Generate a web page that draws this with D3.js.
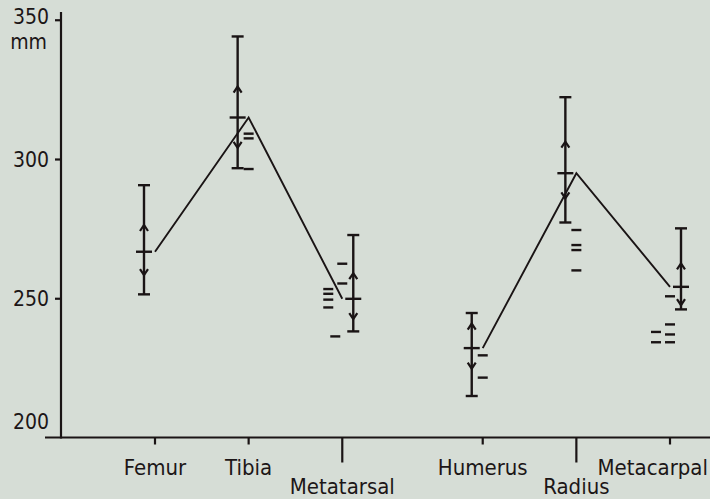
<!DOCTYPE html>
<html>
<head>
<meta charset="utf-8">
<script src="https://cdn.jsdelivr.net/npm/d3@7"></script>
<style>
  body { margin: 0; background: #d6ddd6; }
  svg { display: block; }
  text { font-family: 'DejaVu Sans Condensed', 'DejaVu Sans', sans-serif; fill: #1c1617; }
</style>
</head>
<body>
<svg id="chart" width="710" height="499"></svg>
<script>
// bone lengths in mm
var bones   = ['Femur', 'Tibia', 'Metatarsal', 'Humerus', 'Radius', 'Metacarpal'];
var limb    = ['hind', 'hind', 'hind', 'fore', 'fore', 'fore'];
var maxVal  = [290.6, 344.0, 272.7, 244.7, 322.2, 275.1];
var sdUp    = [276.3, 326.0, 259.0, 240.9, 306.2, 262.5];
var meanVal = [266.7, 314.9, 249.8, 232.1, 294.9, 254.1];
var sdDown  = [258.3, 304.0, 242.5, 224.7, 285.9, 247.5];
var minVal  = [251.4, 296.7, 238.1, 214.9, 277.2, 246.0];

// single specimens (short dashes): which bone, value, lane beside the bar
var extraBone = [1, 1, 1, 2, 2, 2, 2, 2, 2, 2, 3, 3, 4, 4, 4, 4, 5, 5, 5, 5, 5, 5];
var extraVal  = [309.1, 307.4, 296.4, 262.4, 255.3, 253.3, 251.6, 249.5, 246.7, 236.3,
                 229.5, 221.5, 274.5, 269.1, 267.3, 260.0, 250.7, 240.6, 237.9, 237.0, 234.2, 234.2];
var extraLane = [0, 0, 0, 0, 0, 1, 1, 1, 1, 0.5, 0, 0, 0, 0, 0, 0, 0, 0, 1, 0, 1, 0];

var yTicks = [200, 250, 300, 350];
var unit   = 'mm';

// layout
var ink      = '#1a1415';
var barSide  = [-1, -1, 1, -1, -1, 1];   // bar drawn left or right of the bone position
var longTick = [false, false, true, false, true, false];

var svg = d3.select('#chart');

// hind limb bones 0..2, gap, fore limb bones
var slot = bones.map(function(d, i) { return i + (limb[i] == 'fore' ? 0.5 : 0); });

var x = d3.scaleLinear().domain([0, 5.5]).range([155, 670]);
var y = d3.scaleLinear().domain([200, 300]).range([437.5, 159]);

function cx(i) { return x(slot[i]); }
function bx(i) { return cx(i) + barSide[i] * 11; }

// y axis
svg.append('line')
   .attr('x1', 61).attr('x2', 61)
   .attr('y1', 12).attr('y2', y(200) + 1)
   .attr('stroke', ink).attr('stroke-width', 2.2);

var yAxis = svg.append('g')
               .attr('transform', 'translate(61,0)')
               .call(d3.axisLeft(y).tickValues(yTicks).tickSize(6).tickPadding(6).tickFormat(d3.format('d')));
yAxis.select('.domain').remove();
yAxis.selectAll('.tick line').attr('stroke', ink).attr('stroke-width', 2.2)
     .style('display', function(d) { return d == 200 ? 'none' : null; });
yAxis.selectAll('.tick text')
     .style('font-size', '21px')
     .attr('fill', ink)
     .attr('dy', function(d) { return d == 200 ? '-0.45em' : (d == 350 ? '0.2em' : '0.36em'); });

svg.append('text')
   .attr('x', 47).attr('y', 49)
   .attr('text-anchor', 'end')
   .style('font-size', '21px')
   .text(unit);

// x axis
svg.append('line')
   .attr('x1', 45).attr('x2', 710)
   .attr('y1', y(200)).attr('y2', y(200))
   .attr('stroke', ink).attr('stroke-width', 2.2);

var xTicks = svg.append('g').selectAll('g')
                .data(bones)
                .enter()
                .append('g')
                .attr('transform', function(d, i) { return 'translate(' + cx(i) + ',' + y(200) + ')'; });

xTicks.append('line')
      .attr('y1', 0)
      .attr('y2', function(d, i) { return longTick[i] ? 25 : 7; })
      .attr('stroke', ink).attr('stroke-width', 2.2);

xTicks.append('text')
      .attr('y', function(d, i) { return longTick[i] ? 56 : 37; })
      .attr('text-anchor', 'middle')
      .style('font-size', '22px')
      .text(function(d) { return d; })
      .each(function() {
        // keep labels inside the picture
        var box = this.getBBox();
        var parentX = this.parentNode.transform.baseVal[0].matrix.e;
        var over = parentX + box.x + box.width - 708;
        if (over > 0) d3.select(this).attr('x', -over);
      });

// lines through the means, one per limb
var line = d3.line()
             .x(function(i) { return cx(i); })
             .y(function(i) { return y(meanVal[i]); });

['hind', 'fore'].forEach(function(l) {
  var idx = d3.range(bones.length).filter(function(i) { return limb[i] == l; });
  svg.append('path')
     .attr('d', line(idx))
     .attr('fill', 'none')
     .attr('stroke', ink)
     .attr('stroke-width', 1.9);
});

// range bars
var bars = svg.append('g').selectAll('g')
              .data(bones)
              .enter()
              .append('g')
              .attr('stroke', ink)
              .attr('fill', 'none');

bars.append('line')
    .attr('x1', function(d, i) { return bx(i); })
    .attr('x2', function(d, i) { return bx(i); })
    .attr('y1', function(d, i) { return y(maxVal[i]); })
    .attr('y2', function(d, i) { return y(minVal[i]); })
    .attr('stroke-width', 2.4);

[maxVal, minVal].forEach(function(arr) {
  bars.append('line')
      .attr('x1', function(d, i) { return bx(i) - 6; })
      .attr('x2', function(d, i) { return bx(i) + 6; })
      .attr('y1', function(d, i) { return y(arr[i]); })
      .attr('y2', function(d, i) { return y(arr[i]); })
      .attr('stroke-width', 2.4);
});

bars.append('line')
    .attr('x1', function(d, i) { return bx(i) - 8; })
    .attr('x2', function(d, i) { return bx(i) + 8; })
    .attr('y1', function(d, i) { return y(meanVal[i]); })
    .attr('y2', function(d, i) { return y(meanVal[i]); })
    .attr('stroke-width', 2.4);

// arrow heads at +/- one standard deviation
bars.append('path')
    .attr('d', function(d, i) {
      var ax = bx(i), ay = y(sdUp[i]);
      return 'M' + (ax - 4) + ',' + (ay + 6) + 'L' + ax + ',' + ay + 'L' + (ax + 4) + ',' + (ay + 6);
    })
    .attr('stroke-width', 2.2);

bars.append('path')
    .attr('d', function(d, i) {
      var ax = bx(i), ay = y(sdDown[i]);
      return 'M' + (ax - 4) + ',' + (ay - 6) + 'L' + ax + ',' + ay + 'L' + (ax + 4) + ',' + (ay - 6);
    })
    .attr('stroke-width', 2.2);

// single specimens
svg.append('g').selectAll('line')
   .data(extraVal)
   .enter()
   .append('line')
   .attr('x1', function(d, k) { var i = extraBone[k]; return cx(i) - barSide[i] * extraLane[k] * 14 - 5; })
   .attr('x2', function(d, k) { var i = extraBone[k]; return cx(i) - barSide[i] * extraLane[k] * 14 + 5; })
   .attr('y1', function(d) { return y(d); })
   .attr('y2', function(d) { return y(d); })
   .attr('stroke', ink)
   .attr('stroke-width', 2.4);
</script>
</body>
</html>
